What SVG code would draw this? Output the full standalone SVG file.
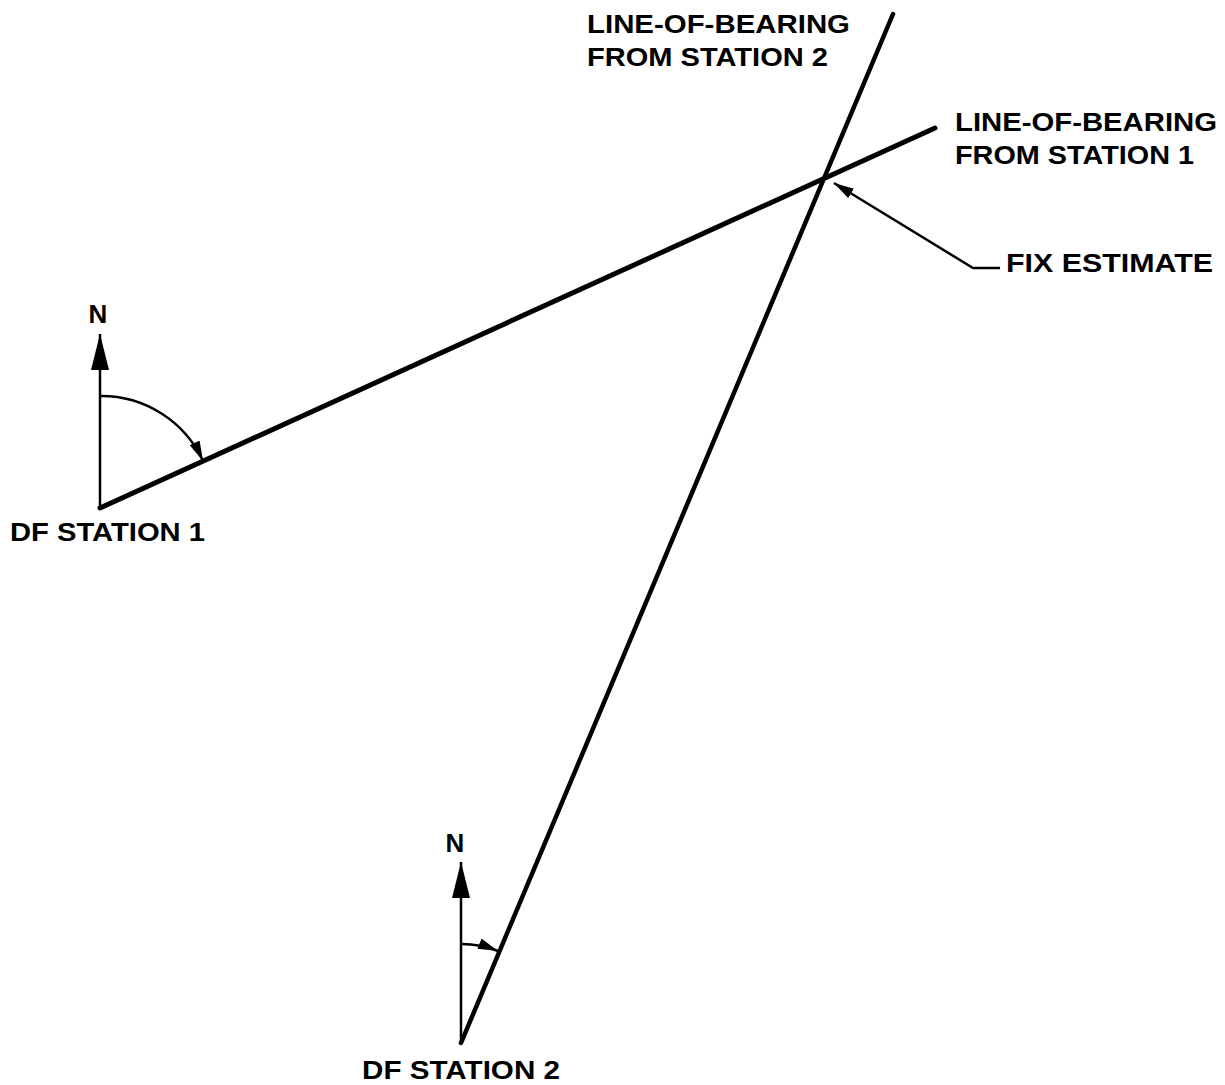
<svg xmlns="http://www.w3.org/2000/svg" width="1225" height="1085" viewBox="0 0 1225 1085">
<defs>
<style>
text{font-family:"Liberation Sans",Arial,sans-serif;font-weight:bold;font-size:26px;fill:#000}
.lob{stroke:#000;fill:none;stroke-linecap:round}
.thin{stroke:#000;fill:none;stroke-width:2.5}
</style>
<marker id="big" viewBox="0 0 36 18" refX="36" refY="9" markerWidth="36" markerHeight="18" markerUnits="userSpaceOnUse" orient="auto"><path d="M0,0 L36,9 L0,18 Z" fill="#000"/></marker>
<marker id="sm" viewBox="0 0 20 11" refX="20" refY="5.5" markerWidth="20" markerHeight="11" markerUnits="userSpaceOnUse" orient="auto"><path d="M0,0 L20,5.5 L0,11 Z" fill="#000"/></marker>
</defs>
<rect width="1225" height="1085" fill="#fff"/>
<g id="connectors">
<line class="lob" x1="100" y1="508" x2="935" y2="128" stroke-width="5"/>
<line class="lob" x1="461" y1="1043" x2="893" y2="14" stroke-width="4.5"/>
<line class="thin" x1="100" y1="508" x2="100" y2="334" stroke-width="3.5" marker-end="url(#big)"/>
<line class="thin" x1="461" y1="1043" x2="461" y2="862" stroke-width="3.5" marker-end="url(#big)"/>
<path class="thin" d="M100,396 A112,112 0 0 1 203,461" marker-end="url(#sm)"/>
<path class="thin" d="M461,944 A99,99 0 0 1 498,951" marker-end="url(#sm)"/>
<path class="thin" d="M1000,268 L973,268 L834,183" marker-end="url(#sm)"/>
</g>
<g id="station1">
<text x="98" y="323" text-anchor="middle" font-size="22">N</text>
<text x="10" y="541" textLength="195" lengthAdjust="spacingAndGlyphs" font-size="24">DF STATION 1</text>
</g>
<g id="station2">
<text x="455" y="852" text-anchor="middle" font-size="22">N</text>
<text x="362" y="1079" textLength="198" lengthAdjust="spacingAndGlyphs" font-size="24">DF STATION 2</text>
</g>
<g id="label-lob2">
<text x="587" y="33" textLength="263" lengthAdjust="spacingAndGlyphs">LINE-OF-BEARING</text>
<text x="587" y="66" textLength="241" lengthAdjust="spacingAndGlyphs">FROM STATION 2</text>
</g>
<g id="label-lob1">
<text x="955" y="131" textLength="262" lengthAdjust="spacingAndGlyphs">LINE-OF-BEARING</text>
<text x="955" y="164" textLength="239" lengthAdjust="spacingAndGlyphs">FROM STATION 1</text>
</g>
<g id="label-fix">
<text x="1006" y="272" textLength="207" lengthAdjust="spacingAndGlyphs">FIX ESTIMATE</text>
</g>
</svg>
